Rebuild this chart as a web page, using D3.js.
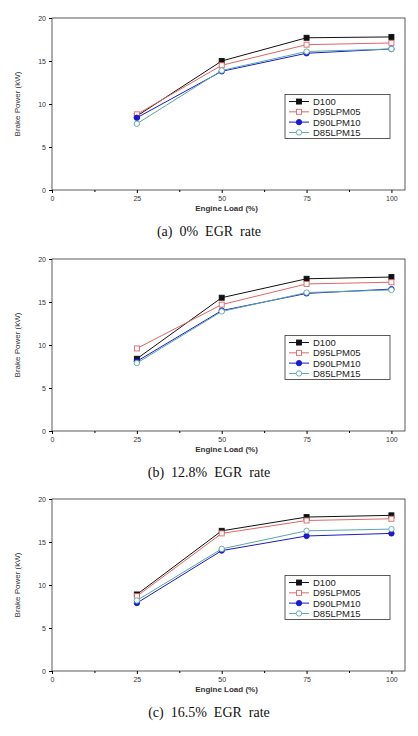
<!DOCTYPE html>
<html><head><meta charset="utf-8">
<script src="https://d3js.org/d3.v7.min.js"></script>
<style>body{margin:0;background:#fff}</style>
</head><body>
<script>
var loads = [25, 50, 75, 100];
var series_names = ['D100', 'D95LPM05', 'D90LPM10', 'D85LPM15'];
var panel_a = [[8.6, 15.0, 17.7, 17.8], [8.8, 14.5, 16.9, 17.1], [8.4, 13.8, 15.9, 16.4], [7.7, 13.9, 16.1, 16.4]];
var panel_b = [[8.4, 15.5, 17.7, 17.9], [9.6, 14.7, 17.1, 17.3], [8.1, 14.0, 16.0, 16.5], [7.9, 13.9, 16.1, 16.4]];
var panel_c = [[8.9, 16.3, 17.9, 18.1], [8.7, 16.0, 17.5, 17.7], [7.9, 14.0, 15.7, 16.0], [8.2, 14.2, 16.3, 16.5]];
var captions = ['(a)  0%  EGR  rate', '(b)  12.8%  EGR  rate', '(c)  16.5%  EGR  rate'];
var x_ticks = [0, 25, 50, 75, 100];
var y_ticks = [0, 5, 10, 15, 20];

var colors = ['#111', '#e06666', '#1a1ad0', '#5aa8a8'];
var filled = [true, false, true, false];
var shapes = ['square', 'square', 'circle', 'circle'];

var svg = d3.select('body').append('svg').attr('width', 418).attr('height', 736);
var panels = [panel_a, panel_b, panel_c];
var tops = [18, 259, 499];

panels.forEach(function (data, p) {
    var top = tops[p], bottom = top + 172, left = 52, right = 405;
    var x = d3.scaleLinear().domain([0, 104]).range([left, right]);
    var y = d3.scaleLinear().domain([0, 20]).range([bottom, top]);
    var g = svg.append('g').attr('font-family', 'Arial, Liberation Sans, sans-serif');
    g.append('rect').attr('x', left).attr('y', top).attr('width', right - left).attr('height', bottom - top)
        .attr('fill', 'none').attr('stroke', '#333').attr('stroke-width', 0.8);
    g.append('g').attr('transform', 'translate(0,' + bottom + ')')
        .call(d3.axisBottom(x).tickValues(x_ticks).tickSize(3).tickPadding(3))
        .call(function (s) { s.select('.domain').remove(); s.selectAll('text').attr('font-size', 7).attr('fill', '#333'); });
    g.append('g').attr('transform', 'translate(0,' + bottom + ')')
        .call(d3.axisBottom(x).tickValues([12.5, 37.5, 62.5, 87.5]).tickSize(2).tickFormat(''))
        .call(function (s) { s.select('.domain').remove(); });
    g.append('g').attr('transform', 'translate(' + left + ',0)')
        .call(d3.axisLeft(y).tickValues(y_ticks).tickSize(3).tickPadding(3))
        .call(function (s) { s.select('.domain').remove(); s.selectAll('text').attr('font-size', 7).attr('fill', '#333'); });
    g.append('text').attr('x', (left + right) / 2 - 2).attr('y', bottom + 21).attr('text-anchor', 'middle')
        .attr('font-size', 8).attr('font-weight', 'bold').attr('fill', '#333').text('Engine Load (%)');
    g.append('text').attr('transform', 'translate(20,' + (top + bottom) / 2 + ') rotate(-90)')
        .attr('text-anchor', 'middle').attr('font-size', 8).attr('fill', '#333').text('Brake Power (kW)');
    g.append('text').attr('x', 209).attr('y', bottom + 46).attr('text-anchor', 'middle')
        .style('white-space', 'pre')
        .attr('font-family', 'Liberation Serif, Times New Roman, serif').attr('font-size', 14).attr('fill', '#111')
        .text(captions[p]);
    var line = d3.line().x(function (d, i) { return x(loads[i]); }).y(function (d) { return y(d); });
    data.forEach(function (vals, s) {
        g.append('path').attr('d', line(vals)).attr('fill', 'none').attr('stroke', colors[s]).attr('stroke-width', 1);
        vals.forEach(function (v, i) {
            drawMarker(g, x(loads[i]), y(v), s);
        });
    });
    // legend
    var lx = 285, ly = y(11.1);
    g.append('rect').attr('x', lx).attr('y', ly).attr('width', 105).attr('height', 44)
        .attr('fill', '#fff').attr('stroke', '#333').attr('stroke-width', 0.8);
    series_names.forEach(function (n, s) {
        var ry = ly + 7 + s * 10.3;
        g.append('line').attr('x1', lx + 4).attr('x2', lx + 24).attr('y1', ry).attr('y2', ry).attr('stroke', colors[s]);
        drawMarker(g, lx + 14, ry, s);
        g.append('text').attr('x', lx + 28).attr('y', ry + 3.5).attr('font-size', 9.5).attr('fill', '#222').text(n);
    });
});

function drawMarker(g, cx, cy, s) {
    var fill = filled[s] ? colors[s] : '#fff';
    if (shapes[s] == 'square') {
        g.append('rect').attr('x', cx - 2.5).attr('y', cy - 2.5).attr('width', 5).attr('height', 5)
            .attr('fill', fill).attr('stroke', colors[s]).attr('stroke-width', 0.9);
    } else {
        g.append('circle').attr('cx', cx).attr('cy', cy).attr('r', 2.7)
            .attr('fill', fill).attr('stroke', colors[s]).attr('stroke-width', 0.9);
    }
}
</script>
</body></html>
